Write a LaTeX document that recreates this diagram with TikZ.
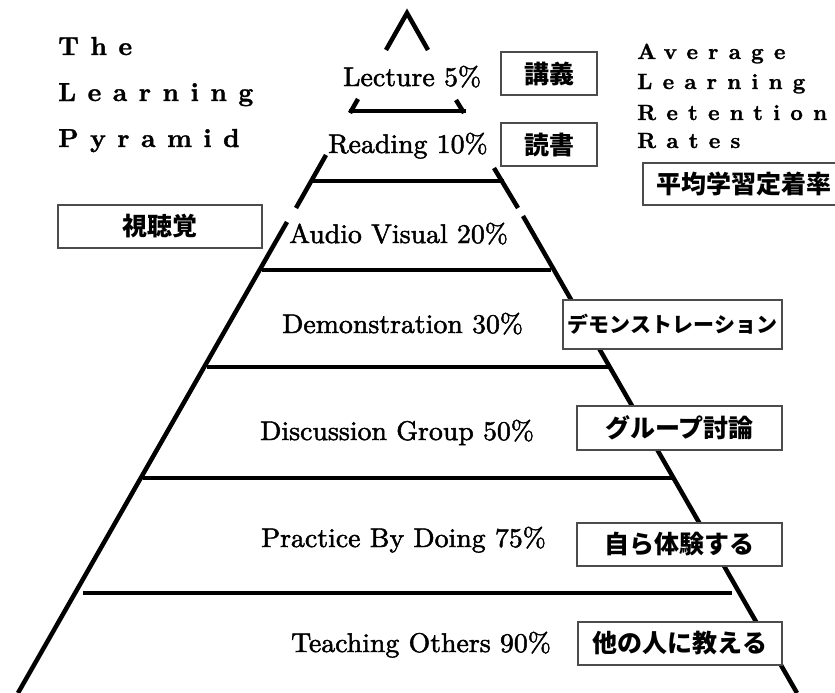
\documentclass[tikz,border=0pt]{standalone}
\usepackage{fontspec}
\newfontfamily\cjk{Noto Sans CJK JP}
\newfontfamily\lblfont{lmroman10-regular}[Extension=.otf, FakeBold=1.8, FakeStretch=1.03]
\newfontfamily\ttlfont{lmroman10-bold}[Extension=.otf, FakeBold=1.2, LetterSpace=44]
\newfontfamily\ttrfont{lmroman10-bold}[Extension=.otf, FakeBold=1.2, LetterSpace=46]
\begin{document}
\begin{tikzpicture}[x=1pt,y=-1pt,
  edge/.style={line width=4.5pt},
  hline/.style={line width=4pt},
  lbl/.style={anchor=base west, inner sep=0pt, font=\lblfont\fontsize{27}{30}\selectfont},
  ttl/.style={anchor=base west, inner sep=0pt, font=\ttlfont\fontsize{26}{30}\selectfont},
  ttr/.style={anchor=base west, inner sep=0pt, font=\ttrfont\fontsize{22}{26}\selectfont},
  jbox/.style={draw=black!70, line width=1.5pt, fill=white, inner sep=0pt, font=\fontsize{25}{25}\selectfont\cjk\bfseries},
]
\useasboundingbox (0,0) rectangle (835,693);

% pyramid outline
\draw[edge] (386,50) -- (407,13) -- (428,50);
\draw[edge] (358,99) -- (350,113);
\draw[edge] (326,155) -- (296,208);
\draw[edge] (287,222) -- (18,693);
\draw[edge] (456,100) -- (464,113);
\draw[edge] (494,168) -- (518,208);
\draw[edge] (523,216) -- (797,693);

% layer lines
\draw[hline] (349,111) -- (466,111);
\draw[hline] (313,181) -- (504,181);
\draw[hline] (262,270) -- (551,270);
\draw[hline] (207,367) -- (608,367);
\draw[hline] (143,478) -- (672,478);
\draw[hline] (83,593) -- (732,593);

% layer labels
\node[lbl] (lec) at (343,86) {Lecture 5\%};
\node[lbl] (rea) at (328,153) {Reading 10\%};
\node[lbl] (aud) at (289,243) {Audio Visual 20\%};
\node[lbl] (dem) at (282,333) {Demonstration 30\%};
\node[lbl] (dis) at (260,440) {Discussion Group 50\%};
\node[lbl] (pra) at (261,547) {Practice By Doing 75\%};
\node[lbl] (tea) at (291,652) {Teaching Others 90\%};

% titles
\node[ttl] (t1) at (58,55) {The};
\node[ttl] (t2) at (58,101) {Learning};
\node[ttl] (t3) at (58,147) {Pyramid};
\node[ttr] (r1) at (637,59) {Average};
\node[ttr] (r2) at (637,89) {Learning};
\node[ttr] (r3) at (637,120) {Retention};
\node[ttr] (r4) at (637,148) {Rates};

% Japanese boxes
\node[jbox, minimum width=96pt, minimum height=43pt] (jlec) at (549,73.5) {講義};
\node[jbox, minimum width=96pt, minimum height=43pt] (jrea) at (549,144.5) {読書};
\node[jbox, minimum width=204pt, minimum height=43pt] (jaud) at (160,226.5) {視聴覚};
\node[jbox, minimum width=202pt, minimum height=42pt] (javg) at (744,184) {平均学習定着率};
\node[jbox, minimum width=219pt, minimum height=49pt, font=\fontsize{21}{21}\selectfont\cjk\bfseries] (jdem) at (672.5,324.5) {デモンストレーション};
\node[jbox, minimum width=205pt, minimum height=44pt] (jdis) at (679.5,428) {グループ討論};
\node[jbox, minimum width=205pt, minimum height=43pt] (jpra) at (679.5,544.5) {自ら体験する};
\node[jbox, minimum width=204pt, minimum height=43pt] (jtea) at (680,643.5) {他の人に教える};
\end{tikzpicture}
\end{document}
